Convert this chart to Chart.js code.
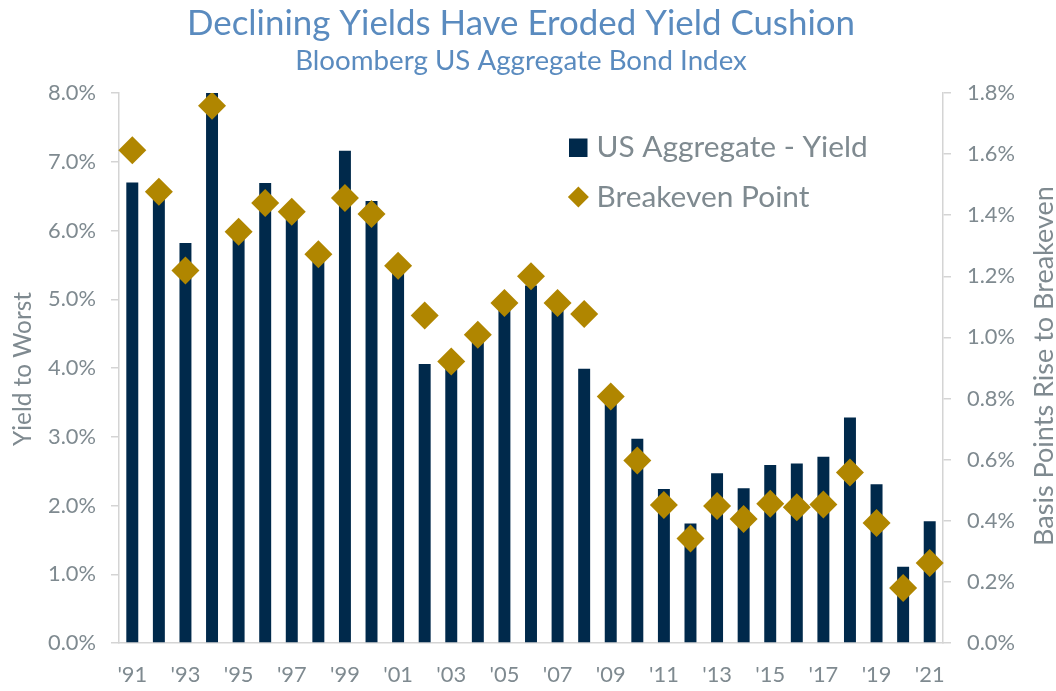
<!DOCTYPE html>
<html><head><meta charset="utf-8">
<script src="https://cdn.jsdelivr.net/npm/chart.js@4.4.1/dist/chart.umd.min.js"></script>
<style>html,body{margin:0;padding:0;background:#fff;}canvas{display:block;}</style>
</head><body>
<canvas id="c" width="1056" height="691"></canvas>
<script>
// ---- data ----
const categories = ["'91","'92","'93","'94","'95","'96","'97","'98","'99","'00","'01","'02","'03","'04","'05","'06","'07","'08","'09","'10","'11","'12","'13","'14","'15","'16","'17","'18","'19","'20","'21"];
const yieldValues = [6.70,6.55,5.82,8.00,5.95,6.69,6.25,5.60,7.16,6.43,5.45,4.06,4.10,4.45,4.90,5.20,4.90,3.99,3.60,2.97,2.24,1.74,2.47,2.25,2.59,2.61,2.71,3.28,2.31,1.11,1.77];
const breakevenValues = [1.613,1.477,1.219,1.758,1.346,1.440,1.411,1.272,1.456,1.404,1.235,1.072,0.921,1.009,1.113,1.200,1.113,1.077,0.807,0.597,0.452,0.342,0.448,0.406,0.456,0.444,0.453,0.558,0.393,0.180,0.262];
const leftTickValues = [0,1,2,3,4,5,6,7,8];
const leftTickLabels = ['0.0%','1.0%','2.0%','3.0%','4.0%','5.0%','6.0%','7.0%','8.0%'];
const rightTickValues = [0,0.2,0.4,0.6,0.8,1.0,1.2,1.4,1.6,1.8];
const rightTickLabels = ['0.0%','0.2%','0.4%','0.6%','0.8%','1.0%','1.2%','1.4%','1.6%','1.8%'];
const titleText = 'Declining Yields Have Eroded Yield Cushion';
const subtitleText = 'Bloomberg US Aggregate Bond Index';
const leftAxisTitle = 'Yield to Worst';
const rightAxisTitle = 'Basis Points Rise to Breakeven';
const barLabel = 'US Aggregate - Yield';
const pointLabel = 'Breakeven Point';

// ---- style ----
const FAMILY = 'Lato';
const NAVY = '#00294b';
const GOLD = '#b08600';
const GRAY = '#7f8a90';
const BLUE = '#5a8bbf';
const AXIS = '#d4d4d4';

const mctx = document.createElement('canvas').getContext('2d');
function fit(text, target) {
  mctx.font = '100px ' + FAMILY;
  return 100 * target / mctx.measureText(text).width;
}
const tickSize = fit('8.0%', 48);
const titleSize = fit(titleText, 668);
const subSize = fit(subtitleText, 452);
const leg1Size = fit(barLabel, 265);
const leg2Size = fit(pointLabel, 218);
const legSize = (leg1Size + leg2Size) / 2;
const lTitleSize = fit(leftAxisTitle, 154);
const rTitleSize = fit(rightAxisTitle, 360);

function capText(ctx, text, size, color, x, capCenter, align) {
  ctx.font = size + 'px ' + FAMILY;
  ctx.fillStyle = color;
  ctx.textAlign = align;
  ctx.textBaseline = 'alphabetic';
  const capH = ctx.measureText('H').actualBoundingBoxAscent;
  ctx.fillText(text, x, capCenter + capH / 2);
}

const overlayText = {
  id: 'overlayText',
  afterDraw(chart) {
    const ctx = chart.ctx;
    ctx.save();
    capText(ctx, titleText, titleSize, BLUE, 521, 22, 'center');
    capText(ctx, subtitleText, subSize, BLUE, 521, 60, 'center');
    // legend
    ctx.fillStyle = NAVY;
    ctx.fillRect(569, 138.5, 18.5, 18.5);
    ctx.fillStyle = GOLD;
    ctx.beginPath();
    ctx.moveTo(578.4, 186.5); ctx.lineTo(588.9, 197); ctx.lineTo(578.4, 207.5); ctx.lineTo(567.9, 197);
    ctx.closePath(); ctx.fill();
    capText(ctx, barLabel, legSize, GRAY, 596.5, 146.5, 'left');
    capText(ctx, pointLabel, legSize, GRAY, 596.5, 196, 'left');
    // axis titles
    ctx.save(); ctx.translate(22, 369); ctx.rotate(-Math.PI / 2);
    capText(ctx, leftAxisTitle, lTitleSize, GRAY, 0, 0, 'center'); ctx.restore();
    ctx.save(); ctx.translate(1043, 366); ctx.rotate(-Math.PI / 2);
    capText(ctx, rightAxisTitle, rTitleSize, GRAY, 0, 0, 'center'); ctx.restore();
    ctx.restore();
  }
};

Chart.defaults.font.family = FAMILY;
new Chart(document.getElementById('c'), {
  type: 'bar',
  data: {
    labels: categories,
    datasets: [
      {
        type: 'line', label: pointLabel, data: breakevenValues, yAxisID: 'y1',
        showLine: false, pointStyle: 'rectRot', pointRadius: 14, pointHoverRadius: 14,
        pointBackgroundColor: GOLD, pointBorderColor: GOLD, pointBorderWidth: 0,
        backgroundColor: GOLD, borderColor: GOLD, order: 0
      },
      {
        type: 'bar', label: barLabel, data: yieldValues, yAxisID: 'y',
        backgroundColor: NAVY, borderWidth: 0, barPercentage: 0.45, categoryPercentage: 1, order: 1
      }
    ]
  },
  options: {
    responsive: false,
    animation: false,
    events: [],
    layout: { padding: { top: 93, left: 0, right: 0, bottom: 0 } },
    plugins: { legend: { display: false }, title: { display: false }, tooltip: { enabled: false } },
    scales: {
      x: {
        grid: { display: false },
        border: { display: true, color: AXIS, width: 1.5 },
        ticks: {
          autoSkip: false, maxRotation: 0, minRotation: 0, color: GRAY, padding: 11,
          font: { size: tickSize },
          callback: (v, i) => (i % 2 === 0 ? categories[i] : '')
        },
        afterFit: s => { s.height = 48; }
      },
      y: {
        position: 'left', min: 0, max: 8,
        grid: { display: true, drawOnChartArea: false, drawTicks: true, tickLength: 8, color: AXIS, lineWidth: 1.5 },
        border: { display: true, color: AXIS, width: 1.5 },
        ticks: { color: GRAY, padding: 15, font: { size: tickSize }, callback: (v, i) => leftTickLabels[i] },
        afterBuildTicks: s => { s.ticks = leftTickValues.map(v => ({ value: v })); },
        afterFit: s => { s.width = 119; }
      },
      y1: {
        position: 'right', min: 0, max: 1.8,
        grid: { display: true, drawOnChartArea: false, drawTicks: true, tickLength: 8, color: AXIS, lineWidth: 1.5 },
        border: { display: true, color: AXIS, width: 1.5 },
        ticks: { color: GRAY, padding: 16, font: { size: tickSize }, callback: (v, i) => rightTickLabels[i] },
        afterBuildTicks: s => { s.ticks = rightTickValues.map(v => ({ value: v })); },
        afterFit: s => { s.width = 113; }
      }
    }
  },
  plugins: [overlayText]
});
</script>
</body></html>
